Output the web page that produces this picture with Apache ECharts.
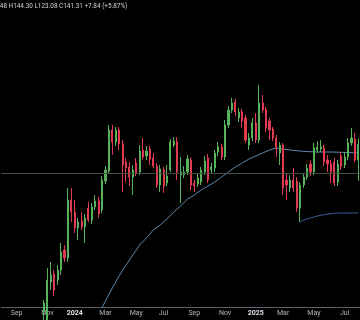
<!DOCTYPE html>
<html><head><meta charset="utf-8">
<script src="https://cdn.jsdelivr.net/npm/echarts@6/dist/echarts.min.js"></script>
<style>html,body{margin:0;padding:0;background:#000}#c{width:360px;height:320px}</style>
</head><body><div id="c"></div>
<script>
// weekly bars, Monday dates
const firstWeek = [2023, 7, 7];   // 2023-08-07
const weekCount = 105;
const tickWeeks = ['2023-09-04','2023-11-06','2024-01-01','2024-03-04','2024-05-06','2024-07-01','2024-09-02','2024-11-04','2025-01-06','2025-03-03','2025-05-05','2025-07-07'];
const tickLabels = ['Sep','Nov','2024','Mar','May','Jul','Sep','Nov','2025','Mar','May','Jul'];
// [open, close, low, high]
const candles = [
'-','-','-','-','-','-','-','-','-','-','-','-',
[57.5,62,53.5,63.5],[53.5,73.5,48.5,79.5],[72.5,76,68.5,82.5],[76.5,68.5,65.5,78.5],
[73.5,78.5,71,81],[78.5,87.5,76,92],[88.5,84.5,82.5,91],[84.5,113.5,82.5,119.5],
[113.5,107.5,102.5,119.5],[107.5,99.5,97,113.5],[99.5,102.5,93.5,104.5],[103,100,98.5,107.5],
[100,104.5,92,106.5],[109.5,103.5,102.5,112.5],[103.5,110,101.5,112],[110,113,108.5,116],
[113,106.5,104.5,115],[108.5,123.5,107,125.5],[123,128.5,121.5,130.5],[128,148.5,127,151],
[148.5,142.5,136,151],[142.5,148.5,140.5,150],[148.5,141.5,138.5,150],[141.5,131,117.5,143.5],
[132.5,129.5,122.5,134.5],[130,125,120.5,132.5],[125,128.5,116,131],[132,127,125.5,134.5],
[127.5,138,126,141],[138.5,135,133.5,144.5],[135.5,138,133.5,140.5],[139,134,131,140.5],
[134.5,130.5,129.5,137],[130.5,121,119.5,132],[121,129,117.5,131],[128.5,120.5,117,130],
[122,125.5,120.5,131],[128.5,142.5,127.5,144],[141,143,140,145],[142.5,127.5,123.5,145],
[126,127.5,112,135],[126,127.5,124.5,130.5],[127.5,134,126,136],[133.5,121,118.5,135],
[122,120.5,117.5,123.5],[121.5,124.5,120,126.5],[122.5,128.5,121,130],[127.5,133,126,135.5],
[134.5,123.5,122,136.5],[128.5,130,127,132],[129.5,137,127.5,138.5],[137.5,140,135.5,142.5],
[140,135,133.5,141.5],[135,151,133.5,153.5],[151,158.5,149.5,160.5],[158.5,162,157,164.5],
[162.5,157.5,155.5,164],[154.5,157.5,152.5,159.5],[157.5,153,149.5,159],[154.5,143.5,142,156],
[141,144.5,138.5,147],[144.5,152,143,154.5],[152,143.5,142,157],[143.5,162,142,171],
[162,158.5,157,166],[158.5,149.5,147.5,160],[153,148.5,143.5,154.5],[149,144.5,143,150],
[144.5,139.5,135,146],[137,141,131,142.5],[141,119.5,116,142],[123.5,121,113.5,127],
[119.5,123.5,117.5,126],[123.5,119.5,117.5,129.5],[123,109.5,107.5,125],[109.5,121,102.5,122.5],
[121,125,119.5,127],[125,129.5,123.5,131.5],[131.5,127.5,125.5,133.5],[127.5,139.5,126,142],
[138.5,140,137,143],[139,140,137.5,143.5],[139.5,132.5,130.5,141],[133.5,131.5,127.5,136],
[131.5,127.5,122,133.5],[132.5,122,120.5,134.5],[122.5,131.5,120.5,133.5],[135.5,130.5,128.5,137.5],
[131,135,129.5,137.5],[135,142,133.5,144.5],[142,144.5,140.5,149.5],[144,133.47,132.5,147],
[133.48,141.31,123.08,144.30]
];
// [week index, value]
const maLong = [[28,56.5],[30,63],[32,69.5],[34,75.5],[36,81],[38,86],[40,91],[42,94.5],[44,98.5],[46,101],[48,104],[50,107.5],[52,110.5],[54,114],[56,116],[58,118.5],[60,120.5],[62,122.5],[64,125],[66,127.5],[68,130],[70,132],[72,134],[74,135.5],[76,137],[78,138.5],[80,139.5],[82,139],[84,138.5],[88,137.8],[92,137.5],[96,137.5],[100,137.3],[104,137]];
const anchoredLine = [[87,102.5],[88,103.5],[90,104.5],[92,105.5],[95,106.5],[98,107],[104,107]];
const levelLine = [127];
const headerText = 'O133.48 H144.30 L123.08 C141.31 +7.84 (+5.87%)';

const categories = [];
for (let i = 0; i < weekCount; i++) {
  const d = new Date(Date.UTC(firstWeek[0], firstWeek[1], firstWeek[2] + 7 * i));
  categories.push(d.toISOString().slice(0, 10));
}

const chart = echarts.init(document.getElementById('c'), null, {renderer: 'canvas'});
chart.setOption({
  backgroundColor: '#000',
  animation: false,
  grid: {left: 1.27, top: 0, width: 360.15, height: 307},
  xAxis: {
    type: 'category', data: categories, boundaryGap: true,
    axisLine: {show: true, lineStyle: {color: '#5d606b', width: 1}},
    axisTick: {show: false}, splitLine: {show: false},
    axisLabel: {
      interval: (idx, val) => tickWeeks.indexOf(val) >= 0,
      formatter: (val) => {
        const k = tickWeeks.indexOf(val);
        const t = tickLabels[k];
        return /^\d+$/.test(t) ? '{y|' + t + '}' : t;
      },
      color: '#b2b5be', fontSize: 7, fontFamily: 'Roboto', margin: 3,
      rich: {y: {color: '#e0e3eb', fontWeight: 'bold', fontSize: 7, fontFamily: 'Roboto'}}
    }
  },
  yAxis: {type: 'value', min: 60, max: 213.5, show: false, splitLine: {show: false}},
  graphic: [{
    type: 'text', left: -17, top: 3,
    style: {text: headerText, fill: '#d1d4dc', font: '6.4px Roboto'}
  }],
  series: [
    {
      type: 'line', data: maLong, showSymbol: false, symbol: 'none', clip: true,
      lineStyle: {color: '#5a88b0', width: 1}, z: 1
    },
    {
      type: 'line', data: anchoredLine, showSymbol: false, symbol: 'none',
      lineStyle: {color: '#3d5f94', width: 1}, z: 1
    },
    {
      type: 'candlestick', data: candles, barWidth: 1.6, clip: true, z: 2,
      itemStyle: {color: '#57b35a', color0: '#e23a4f', borderColor: '#57b35a', borderColor0: '#e23a4f', borderWidth: 1},
      markLine: {
        silent: true, symbol: 'none', label: {show: false},
        lineStyle: {color: '#3f4f44', width: 1, type: 'solid'},
        data: levelLine.map(v => ({yAxis: v}))
      }
    }
  ]
});
</script></body></html>
